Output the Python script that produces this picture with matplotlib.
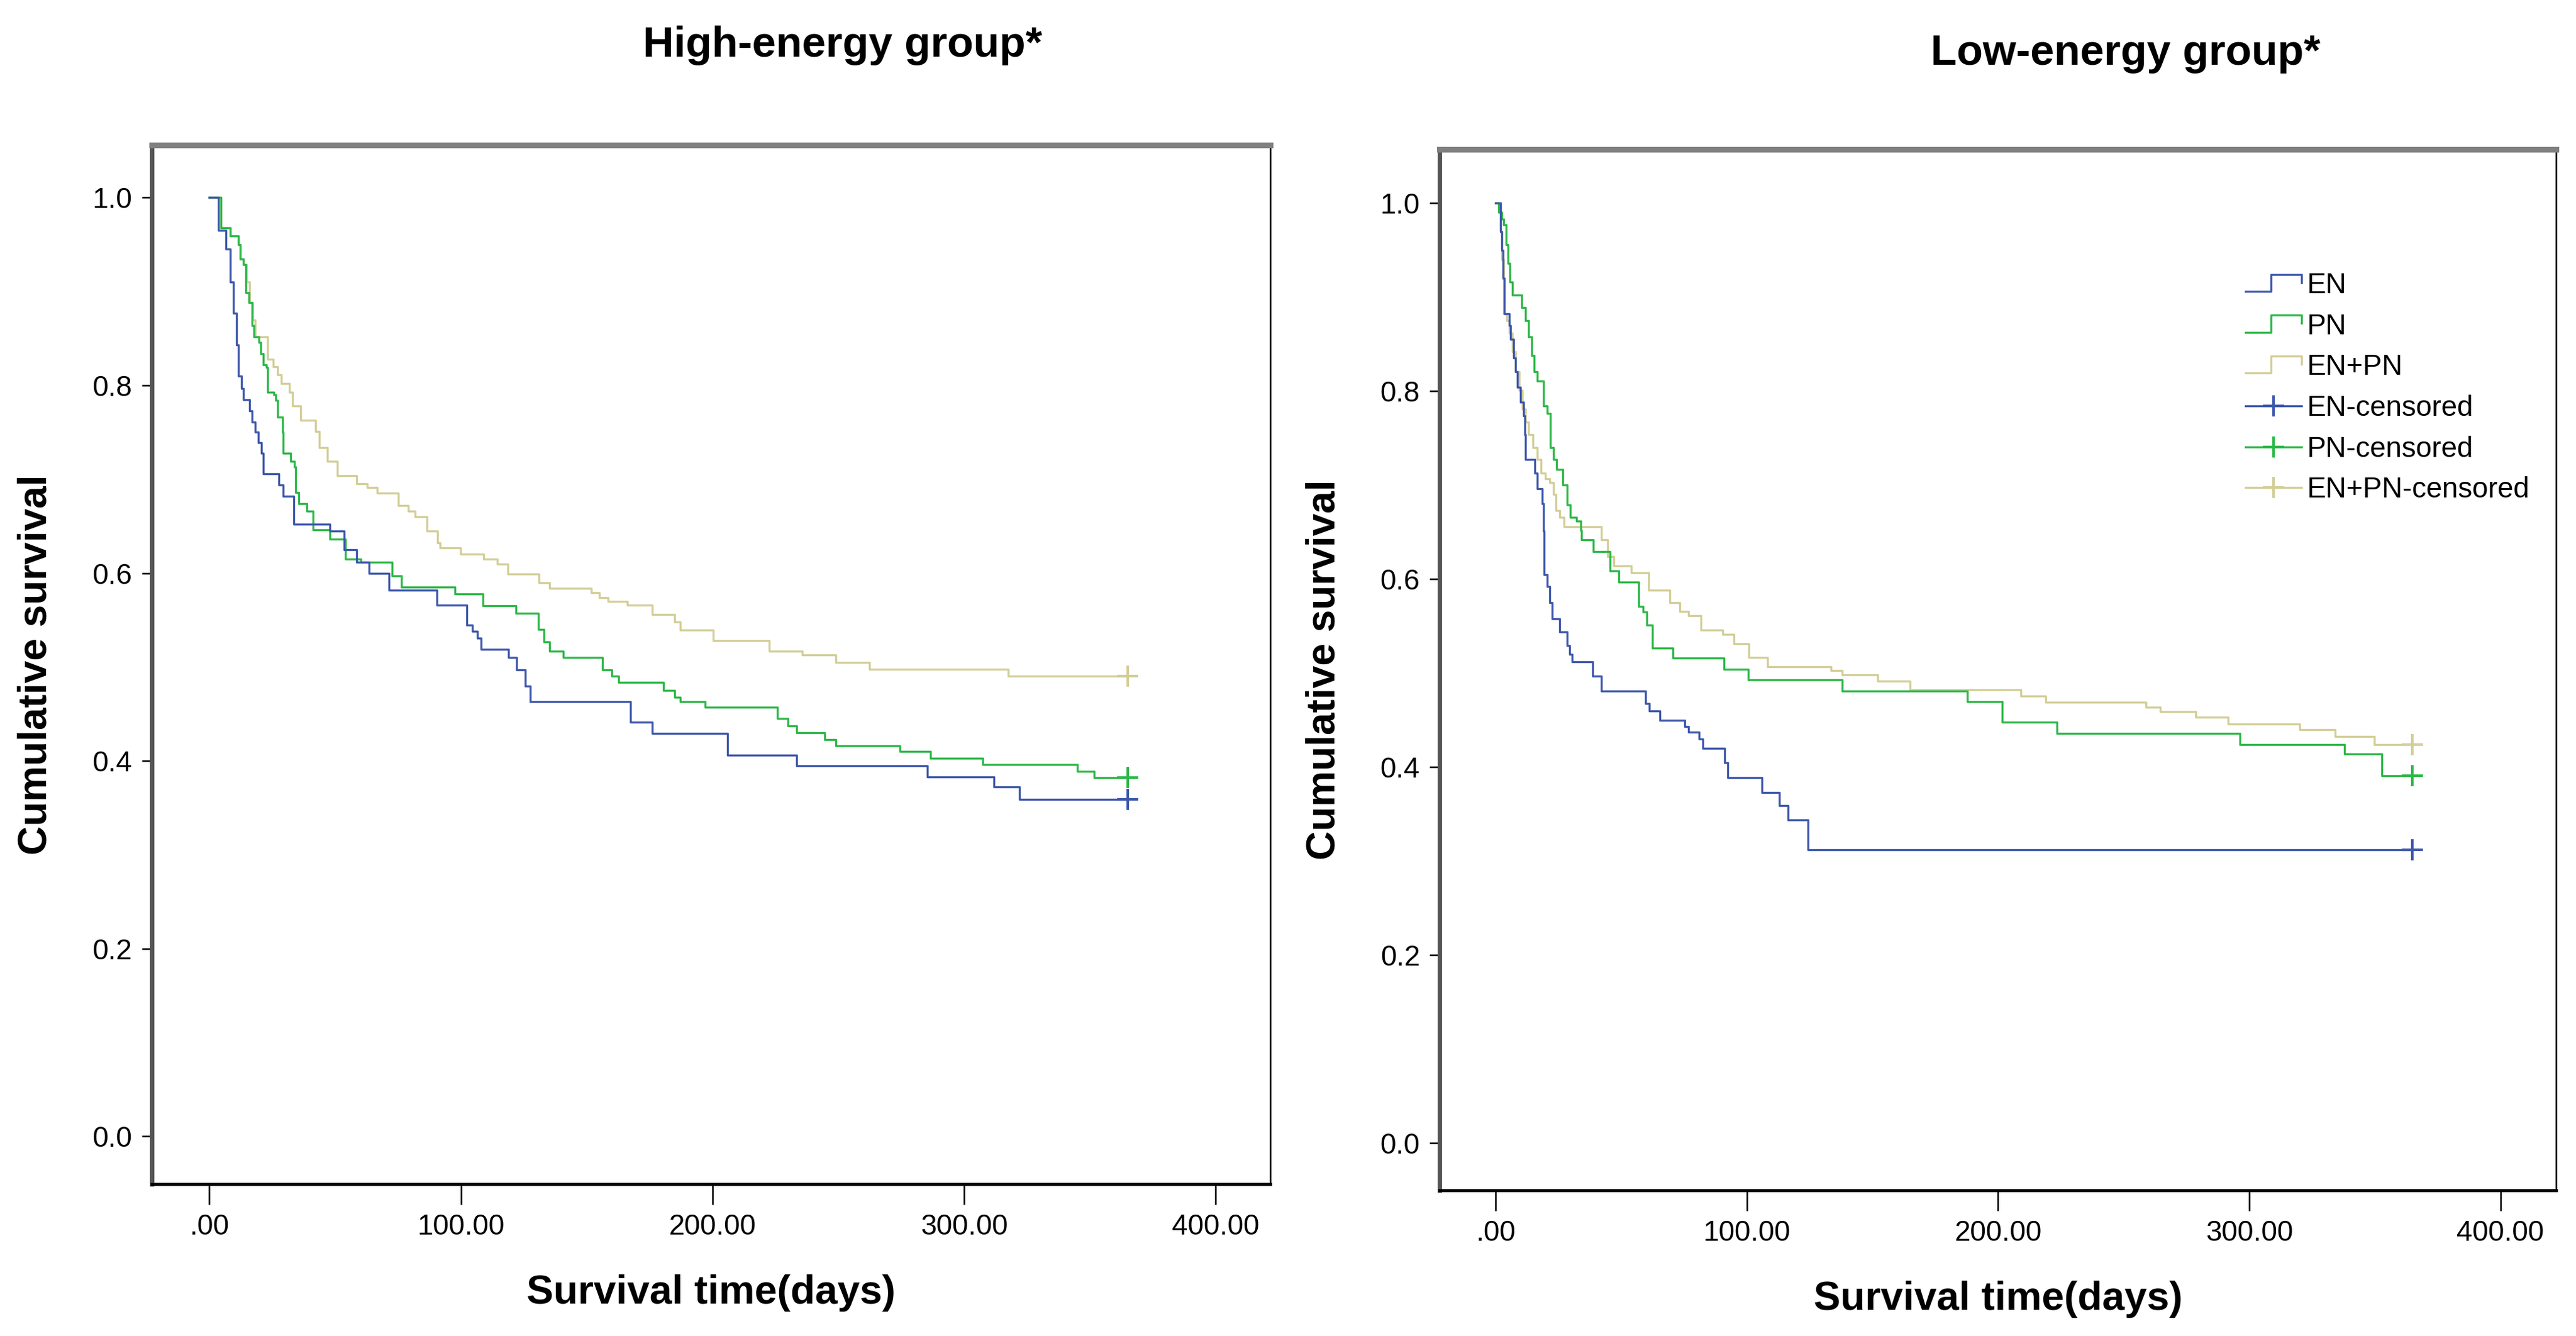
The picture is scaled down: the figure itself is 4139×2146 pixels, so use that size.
import numpy as np
import matplotlib
matplotlib.use("Agg")
import matplotlib.pyplot as plt
from matplotlib.lines import Line2D
from matplotlib.legend_handler import HandlerBase

plt.rcParams['font.family'] = ['Liberation Sans', 'DejaVu Sans']

# ---------------- data ----------------
group_titles = ["High-energy group*", "Low-energy group*"]
series_names = ["EN", "PN", "EN+PN"]
series_colors = ["#3E58AC", "#2EB848", "#D3CE97"]
censor_time = 365

x_ticks = [0, 100, 200, 300, 400]
x_ticklabels = [".00", "100.00", "200.00", "300.00", "400.00"]
y_ticks = [0.0, 0.2, 0.4, 0.6, 0.8, 1.0]
y_ticklabels = ["0.0", "0.2", "0.4", "0.6", "0.8", "1.0"]

# High-energy group: event times (days) and survival after each step
he_en_t = [3.5, 6.6, 8.3, 9.5, 10.7, 11.6, 12.8, 13.6, 16.1, 17.0, 18.2, 19.5, 20.6, 21.5,
           27.6, 29.3, 33.5, 48.0, 53.6, 58.6, 63.5, 71.5, 90.5, 102.4, 104.5, 106.5, 107.9,
           119.0, 122.1, 125.5, 127.6, 167.3, 176.0, 205.9, 233.5, 285.4, 311.9, 321.9]
he_en_s = [0.965, 0.945, 0.91, 0.877, 0.843, 0.81, 0.797, 0.785, 0.773, 0.761, 0.75, 0.739,
           0.728, 0.706, 0.694, 0.682, 0.652, 0.645, 0.625, 0.612, 0.60, 0.582, 0.566, 0.545,
           0.538, 0.531, 0.519, 0.51, 0.497, 0.48, 0.463, 0.441, 0.429, 0.406, 0.395, 0.383,
           0.372, 0.359]

he_pn_t = [4.5, 8.3, 11.6, 12.4, 13.6, 14.5, 15.7, 16.9, 17.7, 19.8, 20.5, 21.5, 22.7, 23.1,
           25.6, 26.4, 27.2, 29.0, 29.3, 32.2, 33.8, 34.3, 35.5, 38.8, 41.3, 47.9, 54.0, 60.2,
           72.6, 76.3, 97.7, 108.7, 122.0, 130.8, 133.0, 135.2, 140.8, 156.2, 160.0, 162.8,
           180.5, 185.0, 187.2, 197.1, 225.8, 230.0, 233.5, 244.6, 249.0, 274.4, 286.6, 307.5,
           345.1, 351.7]
he_pn_s = [0.968, 0.959, 0.950, 0.935, 0.929, 0.899, 0.888, 0.864, 0.852, 0.846, 0.834, 0.822,
           0.819, 0.793, 0.790, 0.784, 0.766, 0.75, 0.728, 0.719, 0.713, 0.686, 0.674, 0.666,
           0.646, 0.636, 0.615, 0.612, 0.597, 0.585, 0.578, 0.565, 0.557, 0.54, 0.527, 0.517,
           0.510, 0.497, 0.49, 0.484, 0.475, 0.468, 0.463, 0.457, 0.445, 0.437, 0.430, 0.423,
           0.416, 0.410, 0.4025, 0.396, 0.389, 0.382]

he_enpn_t = [4.5, 8.3, 11.6, 12.4, 13.6, 14.8, 16.1, 17.2, 18.2, 23.1, 25.5, 27.2, 28.5, 31.8,
             33.0, 36.3, 42.1, 43.7, 47.0, 50.8, 58.6, 62.7, 66.8, 75.1, 79.2, 81.7, 86.6, 90.8,
             91.6, 99.9, 108.9, 114.5, 118.7, 131.0, 135.2, 151.8, 155.0, 158.4, 166.1, 176.1,
             184.9, 187.2, 200.4, 222.5, 235.8, 249.0, 262.3, 317.5]
he_enpn_s = [0.968, 0.959, 0.950, 0.935, 0.929, 0.91, 0.888, 0.87, 0.852, 0.828, 0.82, 0.811,
             0.802, 0.793, 0.778, 0.763, 0.751, 0.734, 0.719, 0.704, 0.695, 0.691, 0.685, 0.672,
             0.666, 0.660, 0.645, 0.632, 0.627, 0.620, 0.615, 0.610, 0.599, 0.59, 0.584, 0.579,
             0.574, 0.57, 0.566, 0.556, 0.548, 0.5395, 0.528, 0.517, 0.5128, 0.505, 0.4977, 0.490]

# Low-energy group
le_en_t = [2.0, 2.5, 3.0, 3.3, 5.3, 6.0, 7.0, 7.8, 8.6, 9.8, 11.1, 11.5, 11.9, 15.6, 16.5,
           18.5, 18.9, 19.3, 20.6, 21.4, 22.6, 25.5, 28.4, 29.5, 30.5, 38.5, 42.0, 59.7, 61.1,
           65.4, 75.3, 76.7, 81.0, 82.4, 91.0, 92.4, 106.0, 113.0, 116.5, 124.3]
le_en_s = [0.97, 0.95, 0.92, 0.882, 0.87, 0.855, 0.835, 0.821, 0.804, 0.788, 0.774, 0.754,
           0.727, 0.713, 0.696, 0.68, 0.651, 0.605, 0.592, 0.575, 0.558, 0.544, 0.529, 0.52,
           0.512, 0.497, 0.481, 0.468, 0.46, 0.45, 0.443, 0.4376, 0.43, 0.42, 0.405, 0.389,
           0.373, 0.359, 0.344, 0.312]

le_pn_t = [1.2, 2.4, 3.2, 4.1, 4.9, 5.7, 6.5, 10.3, 11.9, 13.1, 14.4, 15.2, 16.5, 18.9, 20.5,
           21.8, 23.0, 24.3, 26.8, 28.4, 29.7, 32.1, 33.8, 34.2, 38.8, 45.4, 49.1, 56.9, 58.6,
           60.2, 62.3, 70.5, 90.8, 100.5, 138.0, 187.7, 201.6, 223.4, 296.4, 338.0, 352.7]
le_pn_s = [0.99, 0.983, 0.977, 0.956, 0.936, 0.916, 0.902, 0.889, 0.875, 0.858, 0.838, 0.821,
           0.811, 0.784, 0.776, 0.740, 0.727, 0.717, 0.700, 0.679, 0.666, 0.662, 0.652, 0.642,
           0.629, 0.609, 0.597, 0.571, 0.565, 0.551, 0.527, 0.516, 0.504, 0.493, 0.481, 0.470,
           0.448, 0.436, 0.424, 0.414, 0.391]

le_enpn_t = [2.0, 2.5, 3.2, 4.5, 5.3, 6.5, 7.8, 9.4, 10.7, 11.9, 13.1, 14.8, 16.5, 18.1, 19.8,
             21.4, 23.0, 23.9, 25.5, 27.2, 42.1, 44.5, 47.0, 54.0, 61.0, 69.3, 73.4, 76.7, 81.7,
             90.4, 94.9, 100.7, 108.1, 133.6, 137.9, 152.1, 164.9, 209.0, 218.9, 258.8, 264.5,
             278.7, 291.5, 320.0, 334.2, 349.8]
le_enpn_s = [0.97, 0.94, 0.882, 0.875, 0.862, 0.842, 0.821, 0.801, 0.781, 0.767, 0.754, 0.740,
             0.727, 0.713, 0.7065, 0.703, 0.69, 0.673, 0.666, 0.656, 0.642, 0.624, 0.614, 0.607,
             0.588, 0.575, 0.566, 0.561, 0.546, 0.541, 0.531, 0.517, 0.507, 0.503, 0.498, 0.4915,
             0.482, 0.4756, 0.469, 0.464, 0.459, 0.453, 0.446, 0.440, 0.4325, 0.424]

groups = [
    [(he_en_t, he_en_s), (he_pn_t, he_pn_s), (he_enpn_t, he_enpn_s)],
    [(le_en_t, le_en_s), (le_pn_t, le_pn_s), (le_enpn_t, le_enpn_s)],
]

# ---------------- figure ----------------
W, H = 4139, 2146
fig = plt.figure(figsize=(W / 300, H / 300), dpi=300)
fig.patch.set_facecolor("white")

axes_rects = [[0.0589, 0.1136, 0.4341, 0.7778],
              [0.5589, 0.1091, 0.4334, 0.7790]]
xlims = [(-22.9, 421.6), (-22.3, 422.2)]
ylims = [(-0.051, 1.056), (-0.050, 1.057)]
title_pos = [(0.327, 0.966), (0.825, 0.960)]

LW = 0.8
for gi in range(2):
    ax = fig.add_axes(axes_rects[gi])
    for si, (t, s) in enumerate(groups[gi]):
        xs = [0] + list(t) + [censor_time]
        ys = [1.0] + list(s) + [s[-1]]
        ax.step(xs, ys, where="post", color=series_colors[si], lw=LW, zorder=3 - si)
        ax.plot([censor_time], [s[-1]], marker="+", ms=8, mew=1.0,
                color=series_colors[si], linestyle="none", zorder=4)
    ax.set_xlim(*xlims[gi])
    ax.set_ylim(*ylims[gi])
    ax.set_xticks(x_ticks)
    ax.set_xticklabels(x_ticklabels)
    ax.set_yticks(y_ticks)
    ax.set_yticklabels(y_ticklabels)
    ax.tick_params(axis="x", direction="out", length=7.8, width=0.6, pad=3.5,
                   labelsize=11, top=False)
    ax.tick_params(axis="y", direction="out", length=3.8, width=0.6, pad=3.8,
                   labelsize=11, right=False)
    ax.spines["top"].set_color("#808080")
    ax.spines["top"].set_linewidth(2.2)
    ax.spines["left"].set_color("#555555")
    ax.spines["left"].set_linewidth(1.7)
    ax.spines["bottom"].set_color("black")
    ax.spines["bottom"].set_linewidth(1.2)
    ax.spines["right"].set_color("black")
    ax.spines["right"].set_linewidth(0.6)
    ax.set_xlabel("Survival time(days)", fontsize=15.5, fontweight="bold")
    ax.set_ylabel("Cumulative survival", fontsize=15.5, fontweight="bold")
    ax.xaxis.set_label_coords(0.5, -0.087)
    ax.yaxis.set_label_coords(-0.087, 0.5)
    fig.text(title_pos[gi][0], title_pos[gi][1], group_titles[gi], ha="center",
             va="center", fontsize=16.5, fontweight="bold")
    if gi == 1:
        legend_ax = ax


class StepHandler(HandlerBase):
    def create_artists(self, legend, orig_handle, xdescent, ydescent, width, height,
                       fontsize, trans):
        xs = np.array([0.0, 0.45, 0.45, 1.0, 1.0]) * width - xdescent
        ys = np.array([0.1, 0.1, 0.95, 0.95, 0.55]) * height - ydescent
        ln = Line2D(xs, ys, color=orig_handle.get_color(), lw=orig_handle.get_linewidth())
        ln.set_transform(trans)
        return [ln]


step_handles = [Line2D([], [], color=c, lw=LW) for c in series_colors]
cens_handles = [Line2D([], [], color=c, lw=LW, marker="+", ms=8, mew=1.0)
                for c in series_colors]
labels = series_names + [n + "-censored" for n in series_names]
hmap = {h: StepHandler() for h in step_handles}
legend_ax.legend(step_handles + cens_handles, labels, handler_map=hmap,
                 loc="upper left", bbox_to_anchor=(0.722, 0.882), frameon=False,
                 fontsize=11, borderpad=0, borderaxespad=0, handlelength=1.96,
                 handletextpad=0.17, labelspacing=0.47, numpoints=1)

fig.savefig("out.png", dpi=300, facecolor="white")
